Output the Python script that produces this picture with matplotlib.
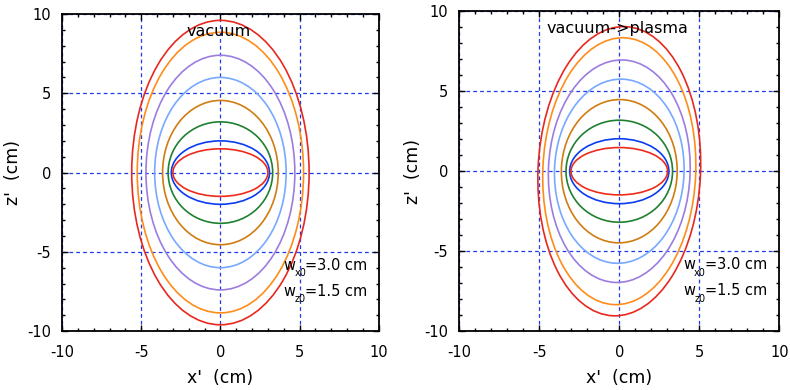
import numpy as np
import matplotlib.pyplot as plt
from matplotlib.patches import Ellipse
from matplotlib.ticker import MultipleLocator

plt.rcParams['font.family'] = ['DejaVu Sans']
plt.rcParams['axes.unicode_minus'] = False

# Kontur-farger (fra ytterst til innerst)
farger = ['#e8281e', '#ff8c1a', '#9b7de0', '#78a8ff', '#d07c10', '#1f8030', '#0a3cf0', '#ee2a1a']

# Halvakser (cm)
vak_ax = [5.6, 5.25, 4.7, 4.15, 3.65, 3.3, 3.1, 3.0]
vak_az = [9.6, 8.85, 7.4, 6.0, 4.55, 3.2, 2.0, 1.5]
vak_vinkel = [0, 0, 0, 0, 0, 0, 0, 0]

pla_ax = [5.08, 4.78, 4.43, 4.05, 3.62, 3.33, 3.1, 3.02]
pla_az = [9.05, 8.35, 6.96, 5.76, 4.48, 3.19, 2.03, 1.48]
pla_vinkel = [-2.5, -2.2, -2.0, -2.0, -1.0, 0, 0, 0]

paneler = [
    ('vacuum', vak_ax, vak_az, vak_vinkel, [0.0785, 0.151, 0.401, 0.813], -0.126),
    ('vacuum->plasma', pla_ax, pla_az, pla_vinkel, [0.5814, 0.151, 0.405, 0.82], -0.116),
]

fig = plt.figure(figsize=(7.9, 3.9), dpi=100)

for tittel, ax_, az_, vinkel, pos, ylx in paneler:
    ax = fig.add_axes(pos)
    for gv in [-10, -5, 0, 5, 10]:
        ax.axvline(gv, color='#1f3ae8', lw=0.9, ls=(0, (3, 2.5)), zorder=1)
        ax.axhline(gv, color='#1f3ae8', lw=0.9, ls=(0, (3, 2.5)), zorder=1)
    for a, b, v, c in zip(ax_, az_, vinkel, farger):
        ax.add_patch(Ellipse((0, 0), 2 * a, 2 * b, angle=v, fill=False,
                             edgecolor=c, lw=1.2, zorder=2))
    ax.set_xlim(-10, 10)
    ax.set_ylim(-10, 10)
    ax.xaxis.set_major_locator(MultipleLocator(5))
    ax.yaxis.set_major_locator(MultipleLocator(5))
    ax.xaxis.set_minor_locator(MultipleLocator(1))
    ax.yaxis.set_minor_locator(MultipleLocator(1))
    ax.tick_params(which='both', direction='in', top=True, right=True,
                   labelsize=10.5, width=1)
    ax.tick_params(axis='x', which='major', length=4, pad=10)
    ax.tick_params(axis='y', which='major', length=4, pad=8)
    ax.tick_params(which='minor', length=2.5)
    for s in ax.spines.values():
        s.set_linewidth(1.3)
    ax.set_xlabel("x'  (cm)", fontsize=12.5)
    ax.set_ylabel("z'  (cm)", fontsize=12.5)
    ax.xaxis.set_label_coords(0.5, -0.12)
    ax.yaxis.set_label_coords(ylx, 0.5)
    ax.text(-0.1, 8.9, tittel, ha='center', va='center', fontsize=11.5, zorder=3)
    # w_x0 / w_z0 med senket indeks
    for y0, idx, verdi in [(-5.84, 'x0', '=3.0 cm'), (-7.48, 'z0', '=1.5 cm')]:
        ax.text(4.0, y0, 'w', ha='left', va='center', fontsize=10.5, zorder=3)
        ax.text(4.68, y0 - 0.5, idx, ha='left', va='center', fontsize=7, zorder=3)
        ax.text(5.35, y0, verdi, ha='left', va='center', fontsize=10.5, zorder=3)

plt.savefig('out.png', dpi=100)
